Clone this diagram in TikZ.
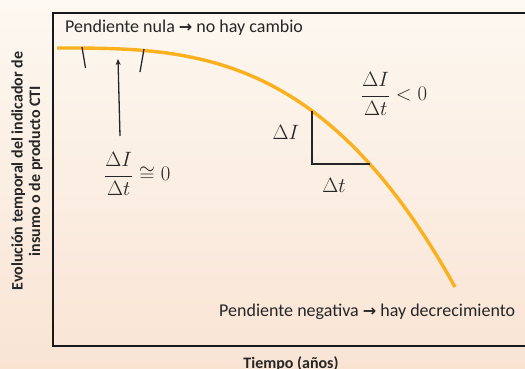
\documentclass[tikz,border=0pt]{standalone}
\usepackage{fontspec}
\setmainfont{Carlito}
\newfontfamily\arrowfont{DejaVu Sans}
\usetikzlibrary{arrows.meta}
\definecolor{bgtop}{RGB}{253,248,241}
\definecolor{bgbot}{RGB}{249,228,212}
\definecolor{curveor}{RGB}{251,176,30}
\definecolor{framec}{RGB}{25,25,25}
\tikzset{
  lbl/.style={font=\fontsize{18}{20}\selectfont, text=black!85, inner sep=0pt},
  axlbl/.style={font=\bfseries\fontsize{16}{17.5}\selectfont, text=black!85, inner sep=0pt, align=center},
  mathlbl/.style={font=\fontsize{22}{24}\selectfont, text=black!85, inner sep=0pt},
  frameline/.style={line width=1.6pt, draw=framec},
  thinline/.style={line width=1.3pt, draw=black!85},
}
\newcommand{\arr}{{\arrowfont\fontsize{16}{18}\selectfont\raisebox{0.3pt}{\textbf{→}}}}
\begin{document}
\begin{tikzpicture}[x=1pt,y=-1pt]
\useasboundingbox (0,0) rectangle (525,369);
\shade[top color=bgtop, bottom color=bgbot] (0,0) rectangle (525,369);
% frame
\coordinate (tr) at (526,13);
\coordinate (tl) at (53,13);
\coordinate (bl) at (53,346);
\coordinate (br) at (526,346);
\draw[frameline] (tr) -- (tl) -- (bl) -- (br);
% curve
\draw[curveor, line width=3.4pt] plot[domain=57:455, samples=100]
  (\x, {48+239*((\x-57)/398)*((\x-57)/398)*((\x-57)/398)});
% ticks
\coordinate (t1a) at (82,47); \coordinate (t1b) at (85.5,68);
\coordinate (t2a) at (144,49); \coordinate (t2b) at (140,72);
\draw[thinline] (t1a) -- (t1b);
\draw[thinline] (t2a) -- (t2b);
% slope triangle
\coordinate (tri1) at (312,111);
\coordinate (tri2) at (312,164);
\coordinate (tri3) at (370,164);
\draw[thinline, line join=miter] (tri1) -- (tri2) -- (tri3);
% labels
\node[lbl, anchor=west] (nula) at (65,28) {Pendiente nula \arr{} no hay cambio};
\node[lbl, anchor=west] (neg) at (219,312) {Pendiente negativa \arr{} hay decrecimiento};
\node[axlbl] (tiempo) at (291,364) {Tiempo (años)};
\node[axlbl, rotate=90] (yl) at (27,171) {Evolución temporal del indicador de\\insumo o de producto CTI};
\node[mathlbl, anchor=west] (f0) at (104,174) {$\displaystyle\frac{\Delta I}{\Delta t}\cong 0$};
\node[mathlbl, anchor=west] (f1) at (361,94) {$\displaystyle\frac{\Delta I}{\Delta t}< 0$};
\node[mathlbl] (dI) at (286,132) {$\Delta I$};
\node[mathlbl] (dt) at (334,185) {$\Delta t$};
% arrow
\coordinate (arrtip) at (118,59);
\coordinate (arrbase) at (120,136);
\draw[thinline, -{Stealth[length=6pt,width=5pt]}] (arrbase) -- (arrtip);
\end{tikzpicture}
\end{document}
